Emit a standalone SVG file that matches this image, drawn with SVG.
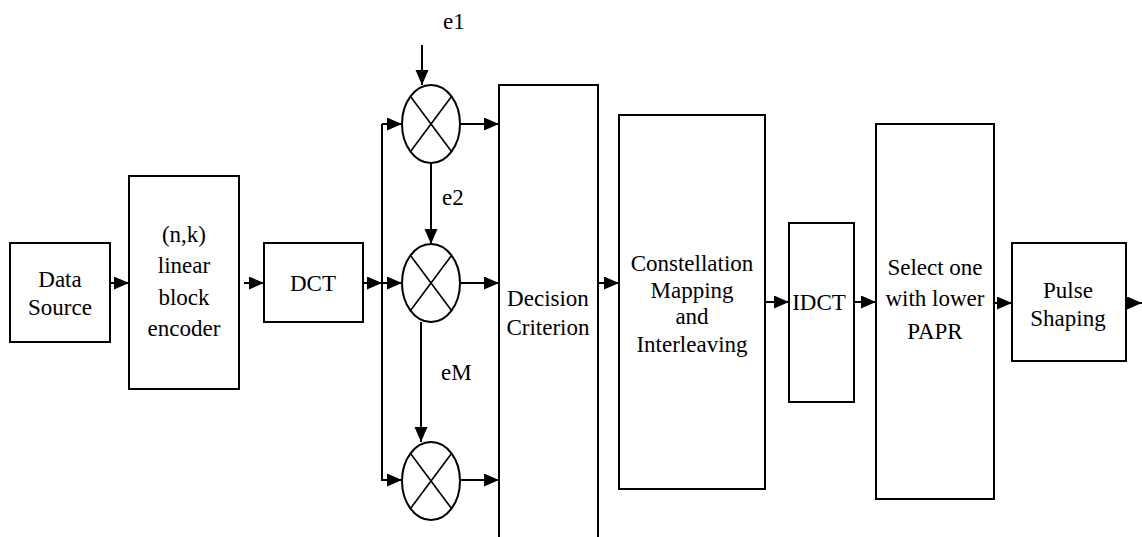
<svg xmlns="http://www.w3.org/2000/svg" width="1142" height="537" viewBox="0 0 1142 537">
<style>
.box{fill:#fff;stroke:#000;stroke-width:2}
.mix{fill:#fff;stroke:#000;stroke-width:2}
.x{stroke:#000;stroke-width:1.6}
.c{fill:none;stroke:#000;stroke-width:2}
.ca{fill:none;stroke:#000;stroke-width:2;marker-end:url(#ah)}
text{font-family:"Liberation Serif","DejaVu Serif",serif;font-size:23px;fill:#000;text-anchor:middle}
.l{text-anchor:start}
</style>
<defs>
<marker id="ah" markerUnits="userSpaceOnUse" markerWidth="16" markerHeight="14" refX="15" refY="6.5" orient="auto">
<path d="M0,0 L15,6.5 L0,13 z" fill="#000"/>
</marker>
</defs>
<rect width="1142" height="537" fill="#fff"/>
<g id="connectors">
<line class="ca" x1="110" y1="283" x2="129" y2="283"/>
<line class="ca" x1="244" y1="283" x2="264" y2="283"/>
<line class="ca" x1="363" y1="283" x2="382" y2="283"/>
<line class="c" x1="382" y1="124" x2="382" y2="481"/>
<line class="ca" x1="382" y1="124" x2="402" y2="124"/>
<line class="ca" x1="382" y1="283" x2="402" y2="283"/>
<line class="ca" x1="382" y1="480" x2="402" y2="480"/>
<line class="ca" x1="422" y1="45" x2="422" y2="85"/>
<line class="ca" x1="431" y1="163" x2="431" y2="244"/>
<line class="ca" x1="421" y1="322" x2="421" y2="442"/>
<line class="ca" x1="460" y1="124" x2="499" y2="124"/>
<line class="ca" x1="460" y1="283" x2="499" y2="283"/>
<line class="ca" x1="460" y1="480" x2="499" y2="480"/>
<line class="ca" x1="598" y1="283" x2="619" y2="283"/>
<line class="ca" x1="763" y1="302" x2="789" y2="302"/>
<line class="ca" x1="852" y1="302" x2="876" y2="302"/>
<line class="ca" x1="994" y1="303" x2="1012" y2="303"/>
<line class="ca" x1="1126" y1="303" x2="1142" y2="303"/>
</g>
<g id="labels">
<text class="l" x="443" y="29">e1</text>
<text class="l" x="442" y="205">e2</text>
<text class="l" x="441" y="380">eM</text>
</g>
<g id="data-source">
<rect class="box" x="10" y="243" width="100" height="99"/>
<text x="60" y="287">Data</text>
<text x="60" y="315">Source</text>
</g>
<g id="encoder">
<rect class="box" x="129" y="176" width="110" height="213"/>
<text x="184" y="242">(n,k)</text>
<text x="184" y="273">linear</text>
<text x="184" y="305">block</text>
<text x="184" y="336">encoder</text>
</g>
<g id="dct">
<rect class="box" x="264" y="243" width="99" height="79"/>
<text x="313" y="291">DCT</text>
</g>
<g id="mixer1">
<ellipse class="mix" cx="431" cy="124" rx="29" ry="39"/>
<line class="x" x1="410.5" y1="96.4" x2="451.5" y2="151.6"/>
<line class="x" x1="451.5" y1="96.4" x2="410.5" y2="151.6"/>
</g>
<g id="mixer2">
<ellipse class="mix" cx="431" cy="283" rx="29" ry="39"/>
<line class="x" x1="410.5" y1="255.4" x2="451.5" y2="310.6"/>
<line class="x" x1="451.5" y1="255.4" x2="410.5" y2="310.6"/>
</g>
<g id="mixer3">
<ellipse class="mix" cx="431" cy="481" rx="29" ry="39"/>
<line class="x" x1="410.5" y1="453.4" x2="451.5" y2="508.6"/>
<line class="x" x1="451.5" y1="453.4" x2="410.5" y2="508.6"/>
</g>
<g id="decision">
<rect class="box" x="499" y="85" width="99" height="470"/>
<text x="548" y="306">Decision</text>
<text x="548" y="335">Criterion</text>
</g>
<g id="constellation">
<rect class="box" x="619" y="115" width="146" height="374"/>
<text x="692" y="271">Constellation</text>
<text x="692" y="298">Mapping</text>
<text x="692" y="324">and</text>
<text x="692" y="352">Interleaving</text>
</g>
<g id="idct">
<rect class="box" x="789" y="223" width="65" height="179"/>
<text x="819" y="310">IDCT</text>
</g>
<g id="select">
<rect class="box" x="876" y="124" width="118" height="375"/>
<text x="935" y="275">Select one</text>
<text x="935" y="306">with lower</text>
<text x="935" y="339">PAPR</text>
</g>
<g id="pulse">
<rect class="box" x="1012" y="243" width="114" height="118"/>
<text x="1068" y="298">Pulse</text>
<text x="1068" y="326">Shaping</text>
</g>
</svg>
